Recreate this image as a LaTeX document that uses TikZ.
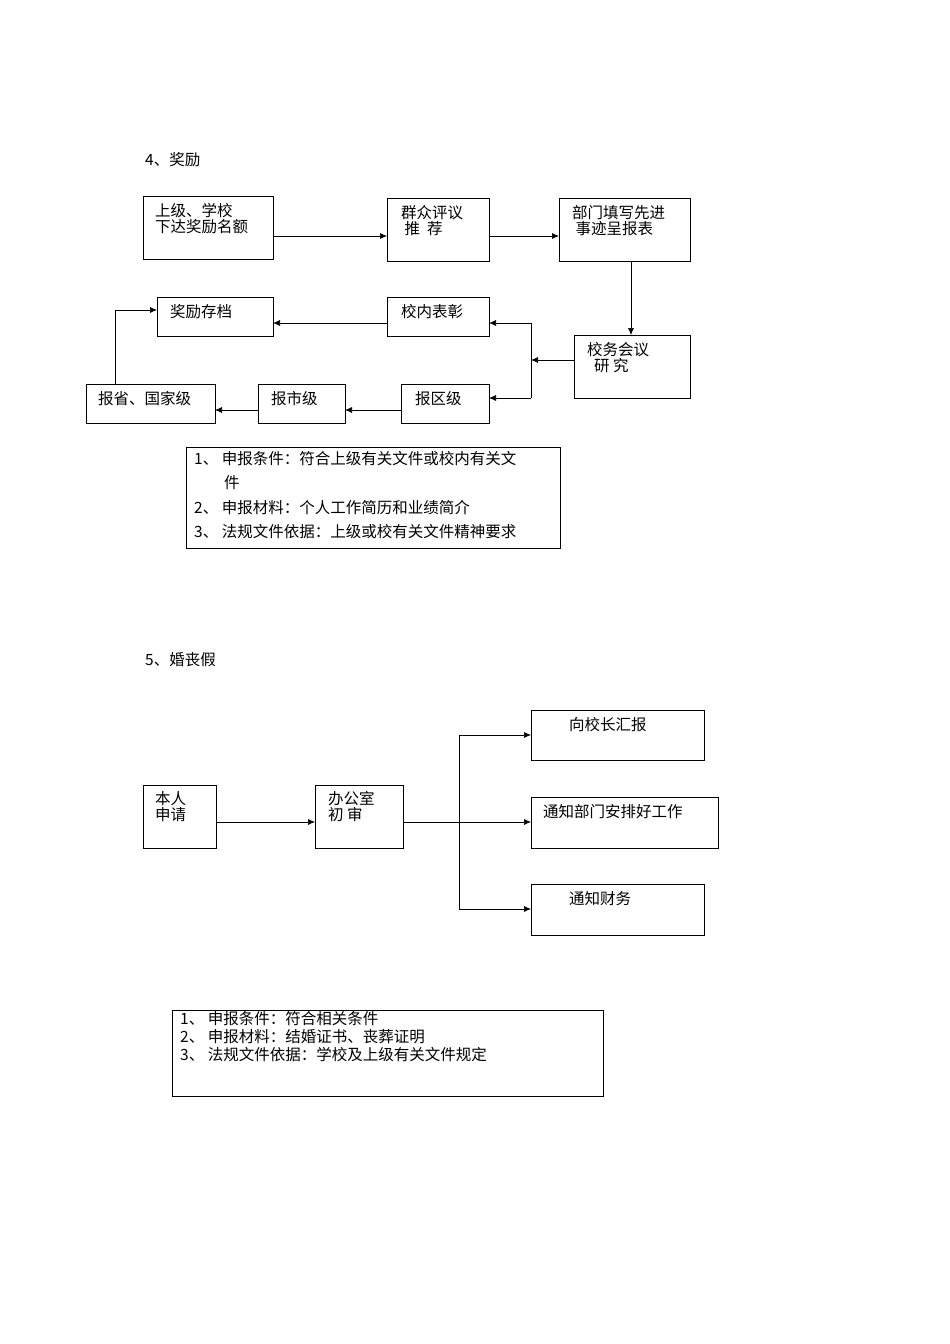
\documentclass[tikz,border=0pt]{standalone}
\usepackage{fontspec}
\setmainfont{Liberation Serif}
\newfontfamily\cjk{Noto Sans CJK SC}
\usetikzlibrary{arrows.meta}
\begin{document}
\begin{tikzpicture}[x=1pt,y=-1pt,
  bx/.style={draw,line width=0.8pt},
  lb/.style={anchor=north west,inner sep=0pt,align=left,font=\cjk\fontsize{15.5}{16}\selectfont},
  ar/.style={-{Latex[length=7pt,width=6pt]},line width=0.7pt}]
\useasboundingbox (0,0) rectangle (950,1344);
\node[lb] (t4) at (145,152) {4、奖励};
\draw[bx] (143,196) rectangle (273,259); \node[lb] at (155,203) {上级、学校\\下达奖励名额};
\draw[bx] (387,198) rectangle (489,261); \node[lb] at (401,205) {群众评议\\\ 推\ \ 荐};
\draw[bx] (559,198) rectangle (690,261); \node[lb] at (572,205) {部门填写先进\\\ 事迹呈报表};
\draw[bx] (574,335) rectangle (690,398); \node[lb] at (587,342) {校务会议\\\ \ 研\ 究};
\draw[bx] (387,297) rectangle (489,336); \node[lb] at (401,304) {校内表彰};
\draw[bx] (157,297) rectangle (273,336); \node[lb] at (170,304) {奖励存档};
\draw[bx] (401,384) rectangle (489,423); \node[lb] at (415,391) {报区级};
\draw[bx] (258,384) rectangle (345,423); \node[lb] at (271,391) {报市级};
\draw[bx] (86,384) rectangle (215,423); \node[lb] at (98,391) {报省、国家级};
\coordinate (a1) at (273,236); \coordinate (b1) at (387,236);
\draw[ar] (a1) -- (b1);
\draw[ar] (489,236) -- (559,236);
\draw[ar] (631,261) -- (631,335);
\draw[ar] (574,360) -- (531,360);
\draw[ar] (531,323) -- (489,323);
\draw[line width=0.7pt] (531,323) -- (531,398);
\draw[ar] (531,398) -- (489,398);
\draw[ar] (387,323) -- (273,323);
\draw[ar] (401,410) -- (345,410);
\draw[ar] (258,410) -- (215,410);
\draw[ar] (115,384) -- (115,310) -- (157,310);
\draw[line width=0.6pt] (186,447) rectangle (560,548);
\node[lb,font=\cjk\fontsize{15.5}{24.5}\selectfont] at (194,451) {1、\ 申报条件：符合上级有关文件或校内有关文\\\hspace{30pt}件\\2、\ 申报材料：个人工作简历和业绩简介\\3、\ 法规文件依据：上级或校有关文件精神要求};
\node[lb] (t5) at (145,652) {5、婚丧假};
\draw[bx] (143,785) rectangle (216,848); \node[lb] at (155,791) {本人\\申请};
\draw[bx] (315,785) rectangle (403,848); \node[lb] at (328,791) {办公室\\初\ 审};
\draw[bx] (531,710) rectangle (704,760); \node[lb] at (569,717) {向校长汇报};
\draw[bx] (531,797) rectangle (718,848); \node[lb] at (543,804) {通知部门安排好工作};
\draw[bx] (531,884) rectangle (704,935); \node[lb] at (569,891) {通知财务};
\draw[ar] (216,822) -- (315,822);
\draw[line width=0.7pt] (403,822) -- (459,822);
\draw[line width=0.7pt] (459,735) -- (459,909);
\draw[ar] (459,735) -- (531,735);
\draw[ar] (459,822) -- (531,822);
\draw[ar] (459,909) -- (531,909);
\draw[line width=0.6pt] (172,1010) rectangle (603,1096);
\node[lb,font=\cjk\fontsize{15.5}{18}\selectfont] at (180,1011) {1、\ 申报条件：符合相关条件\\2、\ 申报材料：结婚证书、丧葬证明\\3、\ 法规文件依据：学校及上级有关文件规定};
\end{tikzpicture}
\end{document}
